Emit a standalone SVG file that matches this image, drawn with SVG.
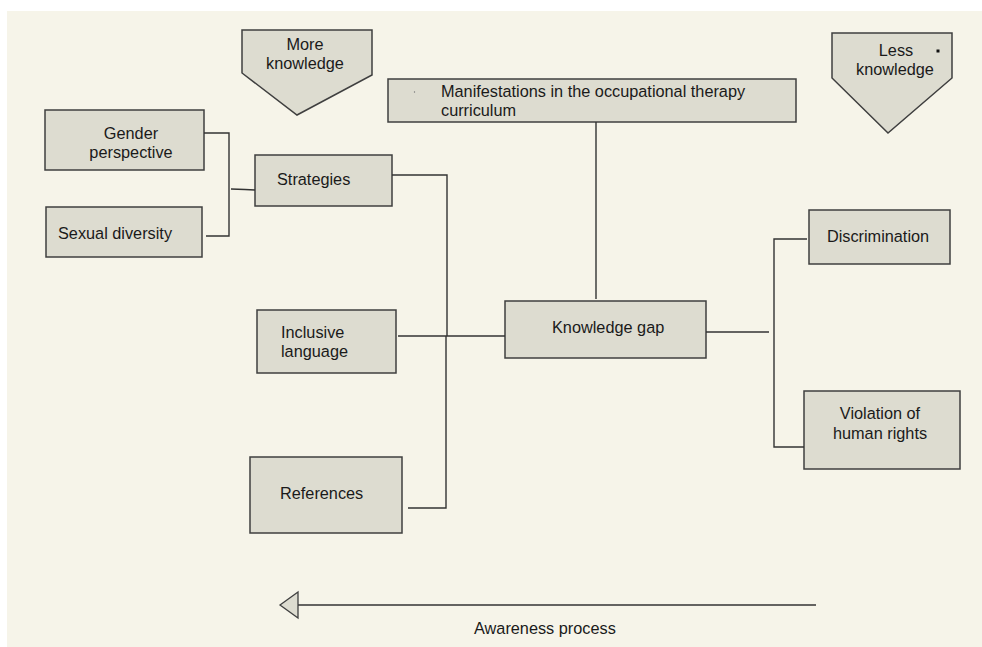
<svg xmlns="http://www.w3.org/2000/svg" width="982" height="647" viewBox="0 0 982 647">
<style>
.bg{fill:#f6f4e9}
.box{fill:#dddcd0;stroke:#3f3f3f;stroke-width:1.5}
.t{font-family:"Liberation Sans",Arial,Helvetica,sans-serif;font-size:16.3px;fill:#1a1a1a}
.c{text-anchor:middle}
.ln{fill:none;stroke:#333;stroke-width:1.4}
</style>
<rect x="0" y="0" width="982" height="647" fill="#ffffff"/>
<rect class="bg" x="7" y="11" width="975" height="636"/>

<g id="more-knowledge">
<polygon class="box" points="242,30 372,30 372,75 297,115 242,73"/>
<text class="t c" x="305" y="50">More</text>
<text class="t c" x="305" y="69">knowledge</text>
</g>

<g id="less-knowledge">
<polygon class="box" points="832,33 952,33 952,78 888,133 832,78"/>
<text class="t c" x="896" y="56">Less</text>
<text class="t c" x="895" y="75">knowledge</text>
<rect x="936.5" y="49.5" width="3" height="3" fill="#111"/>
</g>

<g id="manifestations">
<rect class="box" x="388" y="79" width="408" height="43"/>
<circle cx="414.5" cy="92" r="0.7" fill="#777"/>
<text class="t" x="441" y="97">Manifestations in the occupational therapy</text>
<text class="t" x="441" y="116">curriculum</text>
</g>

<g id="gender-perspective">
<rect class="box" x="45" y="110" width="159" height="60"/>
<text class="t c" x="131" y="139">Gender</text>
<text class="t c" x="131" y="158">perspective</text>
</g>

<g id="sexual-diversity">
<rect class="box" x="46" y="207" width="156" height="50"/>
<text class="t" x="58" y="239">Sexual diversity</text>
</g>

<g id="strategies">
<rect class="box" x="255" y="155" width="137" height="51"/>
<text class="t" x="277" y="185">Strategies</text>
</g>

<g id="inclusive-language">
<rect class="box" x="257" y="310" width="139" height="63"/>
<text class="t" x="281" y="338">Inclusive</text>
<text class="t" x="281" y="357">language</text>
</g>

<g id="references">
<rect class="box" x="250" y="457" width="152" height="76"/>
<text class="t" x="280" y="499">References</text>
</g>

<g id="knowledge-gap">
<rect class="box" x="505" y="301" width="201" height="57"/>
<text class="t" x="552" y="333">Knowledge gap</text>
</g>

<g id="discrimination">
<rect class="box" x="809" y="210" width="141" height="54"/>
<text class="t c" x="878" y="242">Discrimination</text>
</g>

<g id="violation">
<rect class="box" x="804" y="391" width="156" height="78"/>
<text class="t c" x="880" y="419">Violation of</text>
<text class="t c" x="880" y="439">human rights</text>
</g>

<g id="connectors">
<polyline class="ln" points="204,133 229,133 229,236 206,236"/>
<polyline class="ln" points="231,189 245,189.5 255,190"/>
<polyline class="ln" points="392,175 447,175 447,336"/>
<polyline class="ln" points="446,336 446,508 408,508"/>
<line class="ln" x1="398" y1="336" x2="505" y2="336"/>
<line class="ln" x1="596" y1="122" x2="596" y2="299"/>
<line class="ln" x1="706" y1="332" x2="769" y2="332"/>
<polyline class="ln" points="807,239 774,239 774,447 804,447"/>
</g>

<g id="awareness-arrow">
<line class="ln" x1="297" y1="605" x2="816" y2="605" stroke="#111"/>
<polygon points="280,605 298,592 298,618" fill="#dddcd0" stroke="#3f3f3f" stroke-width="1.3"/>
<text class="t" x="474" y="634">Awareness process</text>
</g>
</svg>
